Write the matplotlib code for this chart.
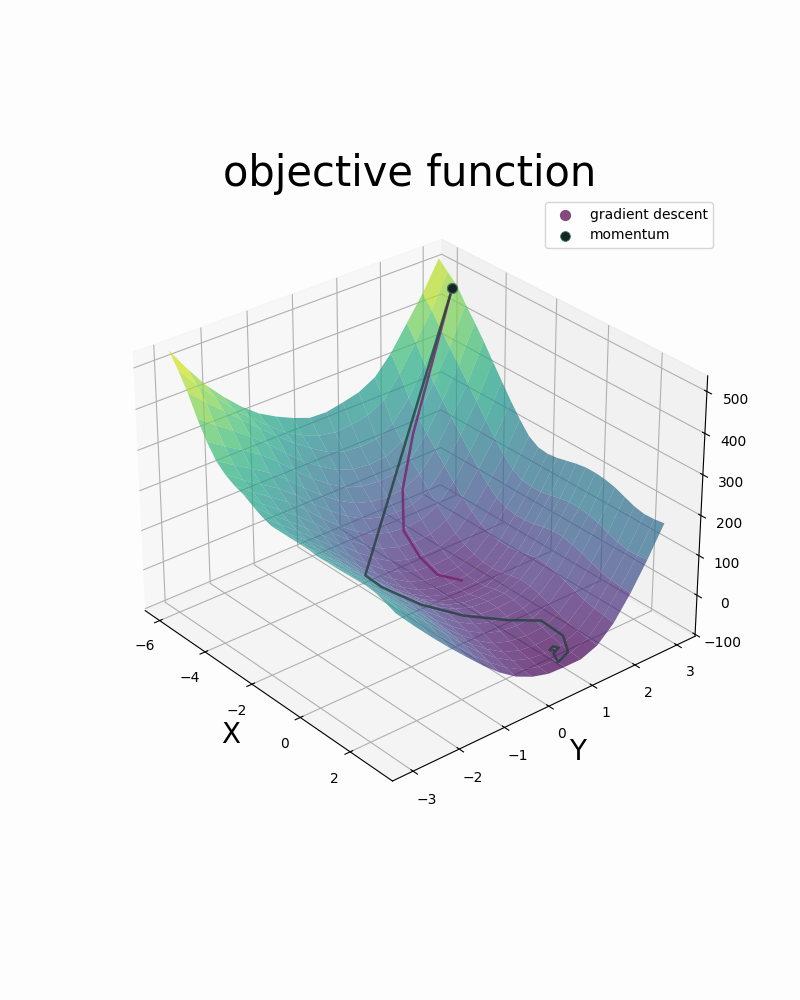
"""Objective function surface with gradient descent and momentum paths."""

import matplotlib

matplotlib.use("Agg")
import matplotlib.pyplot as plt  # noqa: E402
import numpy as np  # noqa: E402

x_grid = [-6, -5.625, -5.25, -4.875, -4.5, -4.125, -3.75, -3.375, -3, -2.625, -2.25, -1.875, -1.5,
          -1.125, -0.75, -0.375, 0, 0.375, 0.75, 1.125, 1.5, 1.875, 2.25, 2.625, 3]
y_grid = [-3, -2.625, -2.25, -1.875, -1.5, -1.125, -0.75, -0.375, 0, 0.375, 0.75, 1.125, 1.5,
          1.875, 2.25, 2.625, 3]

# one row per x_grid value, one column per y_grid value
z_grid = [
    [545, 485, 430, 385, 345, 312, 288, 268, 252, 250, 258, 268, 290, 335, 395, 455, 527],
    [510, 460, 415, 370, 330, 295, 262, 238, 220, 212, 215, 222, 245, 295, 360, 425, 505],
    [470, 430, 393, 355, 318, 282, 248, 218, 192, 177, 172, 175, 197, 247, 316, 390, 484],
    [420, 388, 358, 326, 292, 252, 216, 186, 160, 145, 140, 143, 165, 214, 282, 356, 448],
    [378, 350, 324, 296, 262, 222, 186, 155, 129, 115, 110, 113, 134, 183, 250, 324, 415],
    [345, 318, 292, 265, 232, 193, 158, 127, 103, 89, 84, 87, 108, 155, 220, 291, 380],
    [325, 295, 267, 240, 206, 167, 132, 101, 76, 63, 58, 61, 81, 126, 189, 257, 342],
    [312, 280, 250, 220, 185, 144, 108, 77, 52, 38, 33, 36, 55, 98, 158, 223, 305],
    [304, 265, 232, 200, 164, 123, 87, 55, 29, 15, 10, 13, 31, 72, 129, 191, 268],
    [290, 252, 218, 184, 147, 106, 69, 37, 11, -3, -8, -6, 11, 50, 103, 161, 234],
    [278, 242, 208, 172, 134, 92, 55, 23, -3, -17, -22, -20, -4, 32, 82, 137, 205],
    [270, 233, 199, 162, 123, 81, 45, 13, -13, -27, -32, -30, -14, 21, 70, 123, 190],
    [270, 230, 195, 157, 118, 75, 38, 7, -19, -33, -38, -36, -20, 16, 66, 120, 187],
    [270, 229, 192, 154, 114, 72, 36, 4, -21, -35, -40, -38, -22, 15, 66, 121, 190],
    [270, 229, 192, 153, 114, 73, 37, 6, -18, -32, -37, -35, -18, 19, 70, 126, 196],
    [270, 229, 192, 154, 116, 76, 41, 11, -13, -26, -31, -29, -12, 25, 76, 132, 202],
    [267, 227, 191, 154, 118, 78, 44, 15, -8, -22, -26, -24, -7, 30, 81, 136, 206],
    [268, 228, 191, 154, 117, 77, 43, 13, -10, -24, -28, -26, -9, 28, 80, 136, 206],
    [268, 227, 189, 151, 113, 73, 38, 7, -17, -30, -35, -33, -16, 22, 74, 132, 203],
    [269, 227, 188, 148, 109, 67, 31, 0, -25, -39, -44, -42, -25, 14, 67, 125, 197],
    [270, 226, 186, 145, 105, 61, 24, -9, -35, -49, -54, -52, -35, 4, 57, 115, 187],
    [271, 226, 184, 143, 101, 56, 18, -15, -42, -57, -62, -60, -43, -5, 48, 105, 177],
    [268, 222, 180, 137, 94, 50, 11, -22, -48, -63, -68, -66, -49, -11, 43, 100, 172],
    [260, 213, 168, 125, 82, 39, 1, -31, -55, -68, -71, -70, -53, -14, 40, 101, 173],
    [250, 202, 156, 112, 70, 29, -8, -38, -58, -70, -72, -72, -56, -18, 38, 104, 177],
]

gd_x = [-5.44, -4.58, -4.17, -3.38, -2.57, -1.85, -1.45]
gd_y = [3.0, 1.6, 1.13, 0.71, 0.64, 0.64, 0.97]
gd_z = [470, 190, 85, 27, -8, -25, -40]

mom_x = [-5.44, -0.6, -0.45, -0.2, 0.28, 0.88, 1.33, 2.1, 2.63, 2.84, 2.4, 2.3, 2.16, 2.24, 2.3]
mom_y = [3.0, -1.68, -1.4, -0.67, 0.02, 0.67, 1.2, 1.25, 1.05, 0.69, 0.85, 1.03, 0.98, 0.85, 0.9]
mom_z = [470, 135, 98, 28, -15, -35, -45, -55, -65, -63, -68, -66, -66, -66, -66]


def main() -> None:
    fig = plt.figure(figsize=(8, 10), dpi=100, facecolor="#fdfdfd")
    ax = fig.add_subplot(1, 1, 1, projection="3d", computed_zorder=False)
    ax.set_facecolor("#fdfdfd")
    ax.view_init(elev=30, azim=-40)

    xs, ys = np.meshgrid(x_grid, y_grid, indexing="ij")
    ax.plot_surface(xs, ys, np.array(z_grid, dtype=float), cmap="viridis", alpha=0.7, vmin=-72, vmax=545,
                    rstride=1, cstride=1, linewidth=0, antialiased=True, zorder=1)

    ax.plot(gd_x, gd_y, gd_z, color="#7a1f6e", lw=1.8, alpha=0.8, zorder=5)
    ax.plot(mom_x, mom_y, mom_z, color="#24403f", lw=1.8, alpha=0.8, zorder=6)
    ax.scatter(gd_x[:1], gd_y[:1], gd_z[:1], s=50, color="#844a7c", label="gradient descent", depthshade=False, zorder=7)
    ax.scatter(mom_x[:1], mom_y[:1], mom_z[:1], s=50, color="#152525", edgecolor="#3c8a60", linewidth=0.6,
               label="momentum", depthshade=False, zorder=8)

    ax.set_xlim(-6.65, 3.65)
    ax.set_ylim(-3.44, 3.44)
    ax.set_zlim(-105, 537)
    ax.set_xticks([-6, -4, -2, 0, 2])
    ax.set_yticks([-3, -2, -1, 0, 1, 2, 3])
    ax.set_zticks([-100, 0, 100, 200, 300, 400, 500])
    ax.set_xlabel("X", fontsize=20)
    ax.set_ylabel("Y", fontsize=20)
    ax.set_title("objective function", fontsize=30)
    ax.legend(loc="upper right")

    fig.savefig("out.png", facecolor=fig.get_facecolor())
    plt.close(fig)


if __name__ == "__main__":
    main()
